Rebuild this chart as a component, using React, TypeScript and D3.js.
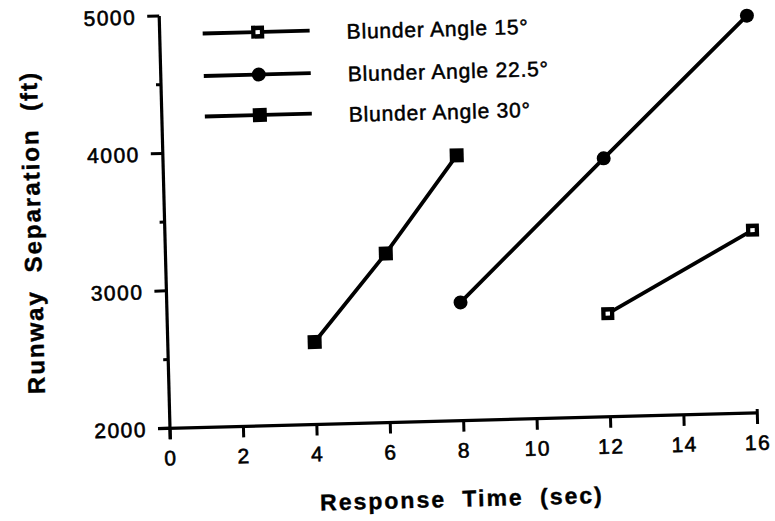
import React from "react";
import * as d3 from "d3";

const xTicks = [0, 2, 4, 6, 8, 10, 12, 14, 16];
const yTicks = [2000, 3000, 4000, 5000];
const yMinorTicks = [2500, 3500, 4500];

const seriesNames = ["Blunder Angle 15°", "Blunder Angle 22.5°", "Blunder Angle 30°"];
const angle15X = [12, 16];
const angle15Y = [2750, 3330];
const angle225X = [8, 12, 16];
const angle225Y = [2860, 3880, 4890];
const angle30X = [4, 6, 8];
const angle30Y = [2600, 3230, 3930];

const W = 775;
const H = 521;
const X0 = 170;
const Y0 = 428.3;

const x = d3.scaleLinear().domain([0, 16]).range([X0, 757.5]);
const y = d3.scaleLinear().domain([2000, 5000]).range([Y0, 15.8]);

type Kind = "open" | "circle" | "square";

function Marker({ cx, cy, kind }: { cx: number; cy: number; kind: Kind }) {
  if (kind === "circle") return <circle cx={cx} cy={cy} r={7} fill="#000" />;
  if (kind === "square")
    return <rect x={cx - 7} y={cy - 7} width={14} height={14} fill="#000" />;
  return (
    <g>
      <rect x={cx - 6.5} y={cy - 6.5} width={13} height={13} fill="#000" />
      <rect x={cx - 2.2} y={cy - 2} width={4.4} height={4} fill="#fff" />
    </g>
  );
}

export default function App() {
  const line = d3
    .line<[number, number]>()
    .x((d) => x(d[0]))
    .y((d) => y(d[1]));

  const series: { xs: number[]; ys: number[]; kind: Kind }[] = [
    { xs: angle15X, ys: angle15Y, kind: "open" },
    { xs: angle225X, ys: angle225Y, kind: "circle" },
    { xs: angle30X, ys: angle30Y, kind: "square" },
  ];

  const legendY = [34.5, 77, 117.5];
  const font = "'Liberation Sans', Arial, Helvetica, sans-serif";

  return (
    <svg
      width={W}
      height={H}
      viewBox={`0 0 ${W} ${H}`}
      style={{ position: "absolute", left: 0, top: 0, background: "#fff" }}
      fontFamily={font}
    >
      <rect width={W} height={H} fill="#fff" />
      <g transform={`rotate(-1.5 ${X0} ${Y0})`}>
        {/* axes */}
        <line x1={X0} y1={y(5000)} x2={X0} y2={Y0 + 11} stroke="#000" strokeWidth={3.2} />
        <line x1={X0 - 12} y1={Y0} x2={x(16)} y2={Y0} stroke="#000" strokeWidth={3.2} />
        {yTicks.map((t) => (
          <g key={t}>
            <line x1={X0 - 12} x2={X0} y1={y(t)} y2={y(t)} stroke="#000" strokeWidth={3} />
            <text
              x={X0 - 23}
              y={y(t) + 8}
              textAnchor="end"
              fontSize={21}
              letterSpacing={1.5}
              stroke="#000"
              strokeWidth={0.6}
            >
              {t}
            </text>
          </g>
        ))}
        {yMinorTicks.map((t) => (
          <line key={t} x1={X0 - 5} x2={X0} y1={y(t)} y2={y(t)} stroke="#000" strokeWidth={3} />
        ))}
        {xTicks.map((t) => (
          <g key={t}>
            <line
              x1={x(t)}
              x2={x(t)}
              y1={t === 16 ? Y0 - 4 : Y0}
              y2={Y0 + 11}
              stroke="#000"
              strokeWidth={3}
            />
            <text
              x={x(t)}
              y={Y0 + 37}
              textAnchor="middle"
              fontSize={21}
              letterSpacing={1.5}
              stroke="#000"
              strokeWidth={0.6}
            >
              {t}
            </text>
          </g>
        ))}

        {/* axis titles */}
        <text
          x={460}
          y={Y0 + 86}
          textAnchor="middle"
          fontSize={23}
          fontWeight="bold"
          letterSpacing={2}
          wordSpacing={8}
          stroke="#000"
          strokeWidth={0.4}
        >
          Response Time (sec)
        </text>
        <text
          transform={`translate(46 229) rotate(-90)`}
          textAnchor="middle"
          fontSize={24}
          fontWeight="bold"
          letterSpacing={2}
          wordSpacing={9}
          stroke="#000"
          strokeWidth={0.4}
        >
          Runway Separation (ft)
        </text>

        {/* series */}
        {series.map((s, i) => {
          const pts = s.xs.map((v, j) => [v, s.ys[j]] as [number, number]);
          return (
            <g key={i}>
              <path d={line(pts) || ""} fill="none" stroke="#000" strokeWidth={3.8} />
              {pts.map((p, j) => (
                <Marker key={j} cx={x(p[0])} cy={y(p[1])} kind={s.kind} />
              ))}
            </g>
          );
        })}

        {/* legend */}
        {series.map((s, i) => (
          <g key={i}>
            <line x1={213} x2={320} y1={legendY[i]} y2={legendY[i]} stroke="#000" strokeWidth={3.8} />
            <Marker cx={268} cy={legendY[i]} kind={s.kind} />
            <text
              x={357}
              y={legendY[i] + 9}
              fontSize={21}
              letterSpacing={0.8}
              stroke="#000"
              strokeWidth={0.5}
            >
              {seriesNames[i]}
            </text>
          </g>
        ))}
      </g>
    </svg>
  );
}
